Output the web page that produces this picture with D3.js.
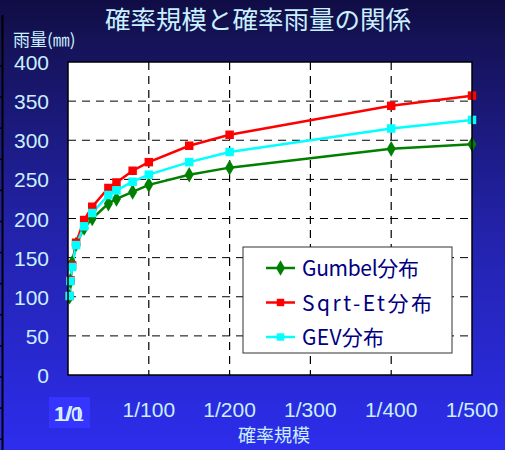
<!DOCTYPE html>
<html>
<head>
<meta charset="utf-8">
<script src="https://cdn.jsdelivr.net/npm/d3@7"></script>
<style>
  body { margin: 0; padding: 0; }
  svg { display: block; }
</style>
</head>
<body>
<div id="chart"></div>
<script>
const width = 505;
const height = 450;
const margins = { top: 62, right: 33, bottom: 75, left: 68 };
const plotW = width - margins.left - margins.right;
const plotH = height - margins.top - margins.bottom;

// data (return period in years, rainfall in mm)
const returnPeriods = [2, 3, 5, 10, 20, 30, 50, 60, 80, 100, 150, 200, 400, 500];
const gumbel = [100, 120, 143, 167, 188, 200, 219, 225, 234, 243, 256, 265, 289, 295];
const sqrtEt = [101, 121, 140, 169, 198, 215, 239, 246, 261, 272, 293, 307, 344, 357];
const gev = [101, 120, 138, 166, 190, 207, 230, 236, 247, 256, 272, 285, 315, 326];
const yTicks = [0, 50, 100, 150, 200, 250, 300, 350, 400];
const xTicks = [100, 200, 300, 400, 500];
const xTickLabels = ['1/100', '1/200', '1/300', '1/400', '1/500'];
const seriesNames = ['Gumbel分布', 'Sqrt-Et分布', 'GEV分布'];
const seriesColors = ['#008000', '#ff0000', '#00ffff'];

const svg = d3.select('#chart')
  .append('svg')
  .attr('width', width)
  .attr('height', height);

const defs = svg.append('defs');
const grad = defs.append('linearGradient')
  .attr('id', 'bg')
  .attr('x1', 0).attr('y1', 0).attr('x2', 0).attr('y2', 1);
grad.append('stop').attr('offset', '0%').attr('stop-color', '#100c44');
grad.append('stop').attr('offset', '8%').attr('stop-color', '#151255');
grad.append('stop').attr('offset', '50%').attr('stop-color', '#2222a8');
grad.append('stop').attr('offset', '100%').attr('stop-color', '#2d2ded');

svg.append('rect')
  .attr('width', width)
  .attr('height', height)
  .attr('fill', 'url(#bg)');

// stray ruler line at the left edge
const ruler = svg.append('g');
ruler.append('line')
  .attr('x1', 2.5).attr('x2', 2.5).attr('y1', 15).attr('y2', height)
  .attr('stroke', '#000').attr('stroke-width', 2);
d3.range(66, height, 31.1).forEach(y => {
  ruler.append('line')
    .attr('x1', 0).attr('x2', 3).attr('y1', y).attr('y2', y)
    .attr('stroke', '#000').attr('stroke-width', 1.5);
});

// title and axis names
svg.append('text')
  .attr('x', 258).attr('y', 29)
  .attr('text-anchor', 'middle')
  .attr('font-family', 'Noto Sans CJK JP')
  .attr('font-size', 25.5)
  .attr('fill', '#c8f0ff')
  .text('確率規模と確率雨量の関係');

svg.append('text')
  .attr('x', 13).attr('y', 46)
  .attr('font-family', 'Noto Sans CJK JP')
  .attr('font-size', 17)
  .attr('fill', '#c8f0ff')
  .text('雨量(㎜)');

svg.append('text')
  .attr('x', 274).attr('y', 442)
  .attr('text-anchor', 'middle')
  .attr('font-family', 'Noto Sans CJK JP')
  .attr('font-size', 18)
  .attr('fill', '#c8f0ff')
  .text('確率規模');

const g = svg.append('g')
  .attr('transform', 'translate(' + margins.left + ',' + margins.top + ')');

const xScale = d3.scaleLinear().domain([0, 500]).range([0, plotW]);
const yScale = d3.scaleLinear().domain([0, 400]).range([plotH, 0]);

g.append('rect')
  .attr('width', plotW)
  .attr('height', plotH)
  .attr('fill', '#fff');

/* Grid */
g.selectAll('.hgrid')
  .data(yTicks.filter(v => v > 0 && v < 400))
  .enter()
  .append('line')
  .attr('x1', 0).attr('x2', plotW)
  .attr('y1', d => yScale(d)).attr('y2', d => yScale(d))
  .attr('stroke', '#000')
  .attr('stroke-width', 1)
  .attr('stroke-dasharray', '8,6');

g.selectAll('.vgrid')
  .data(xTicks.filter(v => v < 500))
  .enter()
  .append('line')
  .attr('x1', d => xScale(d)).attr('x2', d => xScale(d))
  .attr('y1', 0).attr('y2', plotH)
  .attr('stroke', '#000')
  .attr('stroke-width', 1.2)
  .attr('stroke-dasharray', '8,6');

/* Axes labels */
const tickFont = 'Liberation Sans, Arial, sans-serif';
g.selectAll('.ylab')
  .data(yTicks)
  .enter()
  .append('text')
  .attr('x', -19)
  .attr('y', d => yScale(d) + 8)
  .attr('text-anchor', 'end')
  .attr('font-family', tickFont)
  .attr('font-size', 21)
  .attr('fill', '#c8f0ff')
  .text(d => d);

g.selectAll('.xlab')
  .data(xTicks)
  .enter()
  .append('text')
  .attr('x', d => xScale(d))
  .attr('y', plotH + 42)
  .attr('text-anchor', 'middle')
  .attr('font-family', tickFont)
  .attr('font-size', 21)
  .attr('fill', '#c8f0ff')
  .text((d, i) => xTickLabels[i]);

// selected "1/0" label at the origin
g.append('rect')
  .attr('x', xScale(0) - 19).attr('y', plotH + 22)
  .attr('width', 41).attr('height', 31)
  .attr('fill', '#3535ff');
['1/0', '1/1'].forEach((t, i) => {
  g.append('text')
    .attr('x', xScale(0) + i * 1.5)
    .attr('y', plotH + 46)
    .attr('text-anchor', 'middle')
    .attr('font-family', tickFont)
    .attr('font-size', 21)
    .attr('fill', '#d8f4ff')
    .text(t);
});

/* Series */
const seriesData = [gumbel, sqrtEt, gev];
const line = d3.line()
  .x((d, i) => xScale(returnPeriods[i]))
  .y(d => yScale(d));

const diamond = d3.symbol().type(d3.symbolDiamond).size(70);
const square = d3.symbol().type(d3.symbolSquare).size(72);

seriesData.forEach((vals, s) => {
  g.append('path')
    .datum(vals)
    .attr('d', line)
    .attr('fill', 'none')
    .attr('stroke', seriesColors[s])
    .attr('stroke-width', 2.5);
});

seriesData.forEach((vals, s) => {
  g.selectAll('.m' + s)
    .data(vals)
    .enter()
    .append('path')
    .attr('transform', (d, i) => 'translate(' + xScale(returnPeriods[i]) + ',' + yScale(d) + ')')
    .attr('d', s === 0 ? diamond : square)
    .attr('fill', seriesColors[s]);
});

// plot border on top
g.append('rect')
  .attr('width', plotW)
  .attr('height', plotH)
  .attr('fill', 'none')
  .attr('stroke', '#000')
  .attr('stroke-width', 1.5);

/* Legend */
const legendWidths = [117, 130, 82];
const legend = svg.append('g').attr('transform', 'translate(243,247)');
legend.append('rect')
  .attr('width', 209).attr('height', 106)
  .attr('fill', '#fff')
  .attr('stroke', '#333')
  .attr('stroke-width', 1);

seriesNames.forEach((name, s) => {
  const cy = 21 + s * 34.5;
  legend.append('line')
    .attr('x1', 23).attr('x2', 52).attr('y1', cy).attr('y2', cy)
    .attr('stroke', seriesColors[s]).attr('stroke-width', 2.5);
  legend.append('path')
    .attr('transform', 'translate(37.5,' + cy + ')')
    .attr('d', s === 0 ? diamond : d3.symbol().type(d3.symbolSquare).size(55))
    .attr('fill', seriesColors[s]);
  legend.append('text')
    .attr('x', 59).attr('y', cy + 8)
    .attr('font-family', 'Noto Sans CJK JP')
    .attr('font-size', 21)
    .attr('textLength', legendWidths[s])
    .attr('lengthAdjust', 'spacing')
    .attr('fill', '#000080')
    .text(name);
});
</script>
</body>
</html>
